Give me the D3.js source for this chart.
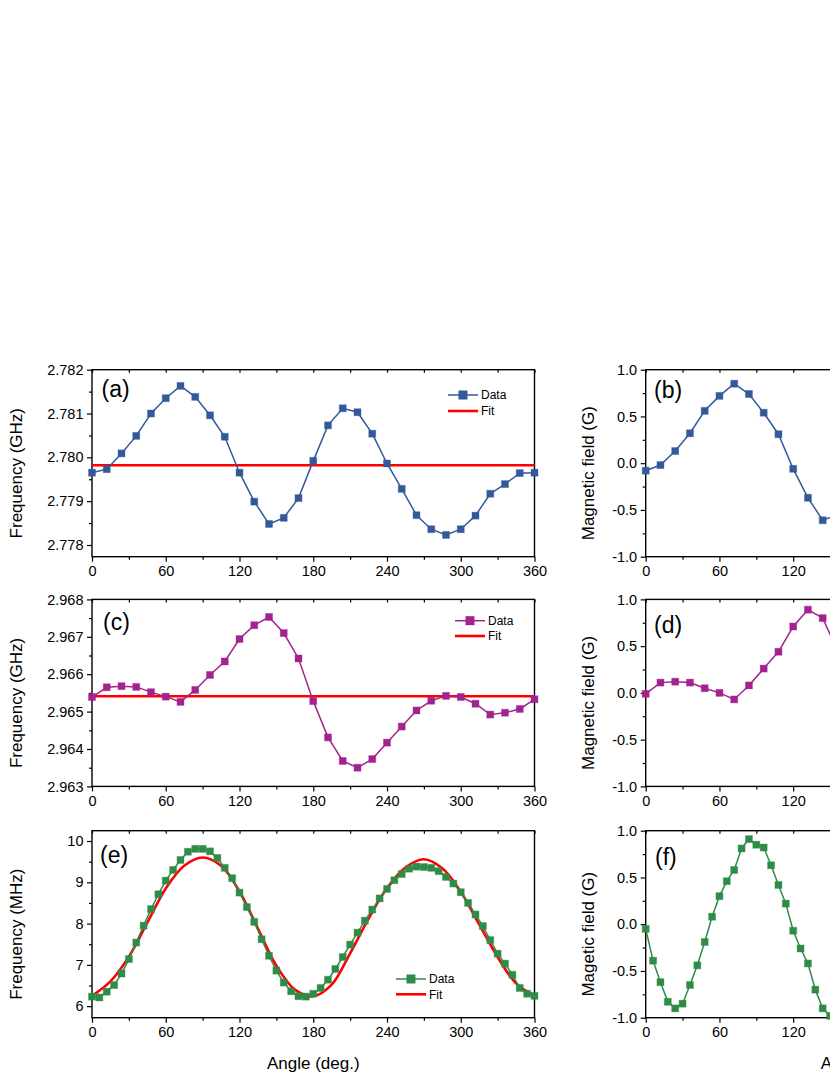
<!DOCTYPE html>
<html>
<head>
<meta charset="utf-8">
<script src="https://cdn.jsdelivr.net/npm/d3@7"></script>
<style>
  html, body { margin: 0; padding: 0; background: #fff; }
  svg { display: block; font-family: "Liberation Sans", Arial, sans-serif; }
</style>
</head>
<body>
<script>
// angles (deg.)
var angles12 = [0, 12, 24, 36, 48, 60, 72, 84, 96, 108, 120, 132, 144, 156, 168, 180,
  192, 204, 216, 228, 240, 252, 264, 276, 288, 300, 312, 324, 336, 348, 360];
var angles6 = [0, 6, 12, 18, 24, 30, 36, 42, 48, 54, 60, 66, 72, 78, 84, 90, 96, 102, 108,
  114, 120, 126, 132, 138, 144, 150, 156, 162, 168, 174, 180, 186, 192, 198, 204, 210,
  216, 222, 228, 234, 240, 246, 252, 258, 264, 270, 276, 282, 288, 294, 300, 306, 312,
  318, 324, 330, 336, 342, 348, 354, 360];
var fitAnglesFlat = [0, 360];
var fitAnglesE = [0, 15, 30, 45, 60, 75, 90, 105, 120, 135, 150, 165, 180, 195, 210, 225,
  240, 255, 270, 285, 300, 315, 330, 345, 360];

// (a) frequency (GHz)
var freqA = [2.77965, 2.77973, 2.78009, 2.78049, 2.78100, 2.78135, 2.78163, 2.78138,
  2.78096, 2.78047, 2.77965, 2.77899, 2.77848, 2.77862, 2.77907, 2.77992, 2.78073,
  2.78112, 2.78103, 2.78054, 2.77986, 2.77928, 2.77868, 2.77836, 2.77823, 2.77836,
  2.77867, 2.77917, 2.77939, 2.77964, 2.77965];
var fitA = [2.77982, 2.77982];

// (b) magnetic field (G)
var fieldB = [-0.08, -0.02, 0.13, 0.32, 0.56, 0.72, 0.85, 0.74, 0.54, 0.31, -0.06, -0.37,
  -0.61, -0.55, -0.34, 0.06, 0.43, 0.61, 0.57, 0.34, 0.03, -0.24, -0.52, -0.67, -0.73,
  -0.67, -0.52, -0.29, -0.19, -0.07, -0.07];

// (c) frequency (GHz)
var freqC = [2.96539, 2.96565, 2.96568, 2.96566, 2.96552, 2.96540, 2.96526, 2.96558,
  2.96598, 2.96634, 2.96694, 2.96731, 2.96753, 2.96710, 2.96642, 2.96528, 2.96431,
  2.96368, 2.96350, 2.96373, 2.96417, 2.96460, 2.96503, 2.96529, 2.96542, 2.96539,
  2.96521, 2.96492, 2.96497, 2.96507, 2.96533];
var fitC = [2.96541, 2.96541];

// (d) magnetic field (G)
var fieldD = [-0.01, 0.11, 0.12, 0.11, 0.05, 0.00, -0.07, 0.08, 0.26, 0.44, 0.71, 0.89,
  0.80, 0.45, 0.10, -0.35, -0.70, -0.92, -0.98, -0.88, -0.66, -0.45, -0.25, -0.08, 0.02,
  0.00, -0.08, -0.22, -0.20, -0.15, -0.05];

// (e) frequency (MHz)
var freqE = [6.23, 6.21, 6.35, 6.51, 6.79, 7.14, 7.54, 7.95, 8.35, 8.71, 9.04, 9.30, 9.54,
  9.74, 9.81, 9.81, 9.75, 9.59, 9.35, 9.10, 8.75, 8.40, 8.04, 7.62, 7.22, 6.86, 6.57,
  6.36, 6.24, 6.23, 6.30, 6.44, 6.64, 6.90, 7.19, 7.49, 7.78, 8.07, 8.34, 8.61, 8.84,
  9.05, 9.20, 9.33, 9.38, 9.37, 9.35, 9.27, 9.13, 8.97, 8.76, 8.50, 8.22, 7.94, 7.60,
  7.27, 7.03, 6.76, 6.44, 6.30, 6.25];
var fitE = [6.25, 6.60, 7.20, 8.02, 8.85, 9.40, 9.60, 9.40, 8.78, 7.88, 6.98, 6.40, 6.24,
  6.52, 7.28, 8.12, 8.86, 9.36, 9.56, 9.34, 8.77, 7.98, 7.19, 6.55, 6.25];

// (f) magnetic field (G)
var fieldF = [-0.05, -0.39, -0.62, -0.83, -0.90, -0.85, -0.65, -0.44, -0.19, 0.08, 0.30,
  0.46, 0.58, 0.81, 0.91, 0.85, 0.82, 0.63, 0.42, 0.22, -0.07, -0.26, -0.42, -0.70, -0.90,
  -0.98, -0.99, -0.92, -0.75, -0.50, -0.20, 0.10, 0.35, 0.55, 0.70, 0.80, 0.85, 0.82,
  0.70, 0.50, 0.25, 0.00, -0.25, -0.45, -0.60, -0.70, -0.75, -0.70, -0.55, -0.35, -0.10,
  0.15, 0.35, 0.50, 0.60, 0.60, 0.50, 0.35, 0.20, 0.05, -0.05];

// tick values
var xTicks = [0, 60, 120, 180, 240, 300, 360];
var xMinor = [30, 90, 150, 210, 270, 330];
var ticksA = [2.778, 2.779, 2.780, 2.781, 2.782];
var ticksC = [2.963, 2.964, 2.965, 2.966, 2.967, 2.968];
var ticksE = [6, 7, 8, 9, 10];
var ticksField = [-1.0, -0.5, 0.0, 0.5, 1.0];

var width = 830, height = 1075;
var colX = [92, 645.7];
var plotW = 442.5, plotH = 187;
var rowY = [369.7, 599.4, 830.7];

var blue = "#33599a", magenta = "#a3228f", green = "#2f8b48", red = "#ff0000";

var panels = [
  { label: "(a)", col: 0, row: 0, xs: angles12, ys: freqA, fx: fitAnglesFlat, fy: fitA,
    color: blue, domain: [2.777733, 2.782], ticks: ticksA, fmt: d3.format(".3f"),
    title: "Frequency (GHz)", lab: [101.5, 397], legend: [448, 395, 411] },
  { label: "(b)", col: 1, row: 0, xs: angles12, ys: fieldB,
    color: blue, domain: [-1, 1], ticks: ticksField, fmt: d3.format(".1f"),
    title: "Magnetic field (G)", lab: [654, 398] },
  { label: "(c)", col: 0, row: 1, xs: angles12, ys: freqC, fx: fitAnglesFlat, fy: fitC,
    color: magenta, domain: [2.963, 2.968], ticks: ticksC, fmt: d3.format(".3f"),
    title: "Frequency (GHz)", lab: [103, 630], legend: [455, 620.7, 636] },
  { label: "(d)", col: 1, row: 1, xs: angles12, ys: fieldD,
    color: magenta, domain: [-1, 1], ticks: ticksField, fmt: d3.format(".1f"),
    title: "Magnetic field (G)", lab: [654, 633] },
  { label: "(e)", col: 0, row: 2, xs: angles6, ys: freqE, fx: fitAnglesE, fy: fitE, smooth: true,
    color: green, domain: [5.72, 10.25], ticks: ticksE, fmt: d3.format("d"),
    title: "Frequency (MHz)", lab: [100, 863], legend: [396, 979, 994.3] },
  { label: "(f)", col: 1, row: 2, xs: angles6, ys: fieldF,
    color: green, domain: [-1, 1], ticks: ticksField, fmt: d3.format(".1f"),
    title: "Magetic field (G)", lab: [655, 865] }
];

var svg = d3.select("body").append("svg")
  .attr("width", width)
  .attr("height", height);

svg.append("rect").attr("width", width).attr("height", height).attr("fill", "#fff");

panels.forEach(function (p) {
  var x0 = colX[p.col], y0 = rowY[p.row];
  var x = d3.scaleLinear().domain([0, 360]).range([x0, x0 + plotW]);
  var y = d3.scaleLinear().domain(p.domain).range([y0 + plotH, y0]);

  // minor ticks halfway between the labelled ones
  var minorY = [];
  for (var i = 0; i < p.ticks.length - 1; i++) minorY.push((p.ticks[i] + p.ticks[i + 1]) / 2);

  var g = svg.append("g");

  function fmtY(d) { return p.fmt(d).replace("\u2212", "-"); }

  // axes
  g.append("g").attr("transform", "translate(0," + (y0 + plotH) + ")")
    .call(d3.axisBottom(x).tickValues(xTicks).tickSize(5).tickPadding(4.5));
  g.append("g").attr("transform", "translate(0," + (y0 + plotH) + ")")
    .call(d3.axisBottom(x).tickValues(xMinor).tickSize(3).tickFormat(""));
  g.append("g").attr("transform", "translate(0," + y0 + ")")
    .call(d3.axisBottom(x).tickValues(xTicks.concat(xMinor)).tickSize(3).tickFormat(""));
  g.append("g").attr("transform", "translate(" + x0 + ",0)")
    .call(d3.axisLeft(y).tickValues(p.ticks).tickSize(5).tickPadding(3.5).tickFormat(fmtY));
  g.append("g").attr("transform", "translate(" + x0 + ",0)")
    .call(d3.axisLeft(y).tickValues(minorY).tickSize(3).tickFormat(""));

  g.selectAll(".domain").remove();
  g.selectAll(".tick line").attr("stroke", "#000").attr("stroke-width", 1.2);
  g.selectAll(".tick text").attr("font-size", "14.5px")
    .attr("font-family", "'Liberation Sans', Arial, sans-serif").attr("fill", "#000");

  // frame
  g.append("rect")
    .attr("x", x0).attr("y", y0).attr("width", plotW).attr("height", plotH)
    .attr("fill", "none").attr("stroke", "#000").attr("stroke-width", 1.4);

  // fit
  if (p.fx) {
    var fitLine = d3.line()
      .x(function (d, i) { return x(p.fx[i]); })
      .y(function (d) { return y(d); });
    if (p.smooth) fitLine.curve(d3.curveCatmullRom.alpha(0.5));
    g.append("path").datum(p.fy)
      .attr("d", fitLine)
      .attr("fill", "none").attr("stroke", red).attr("stroke-width", 2.6);
  }

  // data
  var dataLine = d3.line()
    .x(function (d, i) { return x(p.xs[i]); })
    .y(function (d) { return y(d); });
  g.append("path").datum(p.ys)
    .attr("d", dataLine)
    .attr("fill", "none").attr("stroke", p.color).attr("stroke-width", 1.5);

  var ms = 7;
  g.selectAll("rect.pt").data(p.ys).enter().append("rect")
    .attr("class", "pt")
    .attr("x", function (d, i) { return x(p.xs[i]) - ms / 2; })
    .attr("y", function (d) { return y(d) - ms / 2; })
    .attr("width", ms).attr("height", ms)
    .attr("fill", p.color)
    .attr("stroke", p.color).attr("stroke-opacity", 0.35).attr("stroke-width", 1);

  // panel label
  g.append("text")
    .attr("x", p.lab[0]).attr("y", p.lab[1])
    .attr("font-size", "23px").attr("fill", "#000")
    .text(p.label);

  // y title
  var tx = p.col === 0 ? 16.5 : 588.5;
  var ty = y0 + plotH / 2 + 10;
  g.append("text")
    .attr("transform", "translate(" + tx + "," + ty + ") rotate(-90)")
    .attr("text-anchor", "middle").attr("dominant-baseline", "central")
    .attr("font-size", "17px").attr("fill", "#000")
    .text(p.title);

  // legend
  if (p.legend) {
    var lx = p.legend[0], ly1 = p.legend[1], ly2 = p.legend[2];
    var lg = g.append("g");
    lg.append("line").attr("x1", lx).attr("x2", lx + 30).attr("y1", ly1).attr("y2", ly1)
      .attr("stroke", p.color).attr("stroke-width", 1.5);
    lg.append("rect").attr("x", lx + 15 - 4.5).attr("y", ly1 - 4.5)
      .attr("width", 9).attr("height", 9).attr("fill", p.color);
    lg.append("text").attr("x", lx + 33).attr("y", ly1 + 4.3)
      .attr("font-size", "12px").attr("fill", "#000").text("Data");
    lg.append("line").attr("x1", lx).attr("x2", lx + 30).attr("y1", ly2).attr("y2", ly2)
      .attr("stroke", red).attr("stroke-width", 2.6);
    lg.append("text").attr("x", lx + 33).attr("y", ly2 + 4.3)
      .attr("font-size", "12px").attr("fill", "#000").text("Fit");
  }
});

// x titles
[0, 1].forEach(function (c) {
  svg.append("text")
    .attr("x", colX[c] + plotW / 2).attr("y", 1069)
    .attr("text-anchor", "middle")
    .attr("font-size", "17px").attr("fill", "#000")
    .text("Angle (deg.)");
});
</script>
</body>
</html>
